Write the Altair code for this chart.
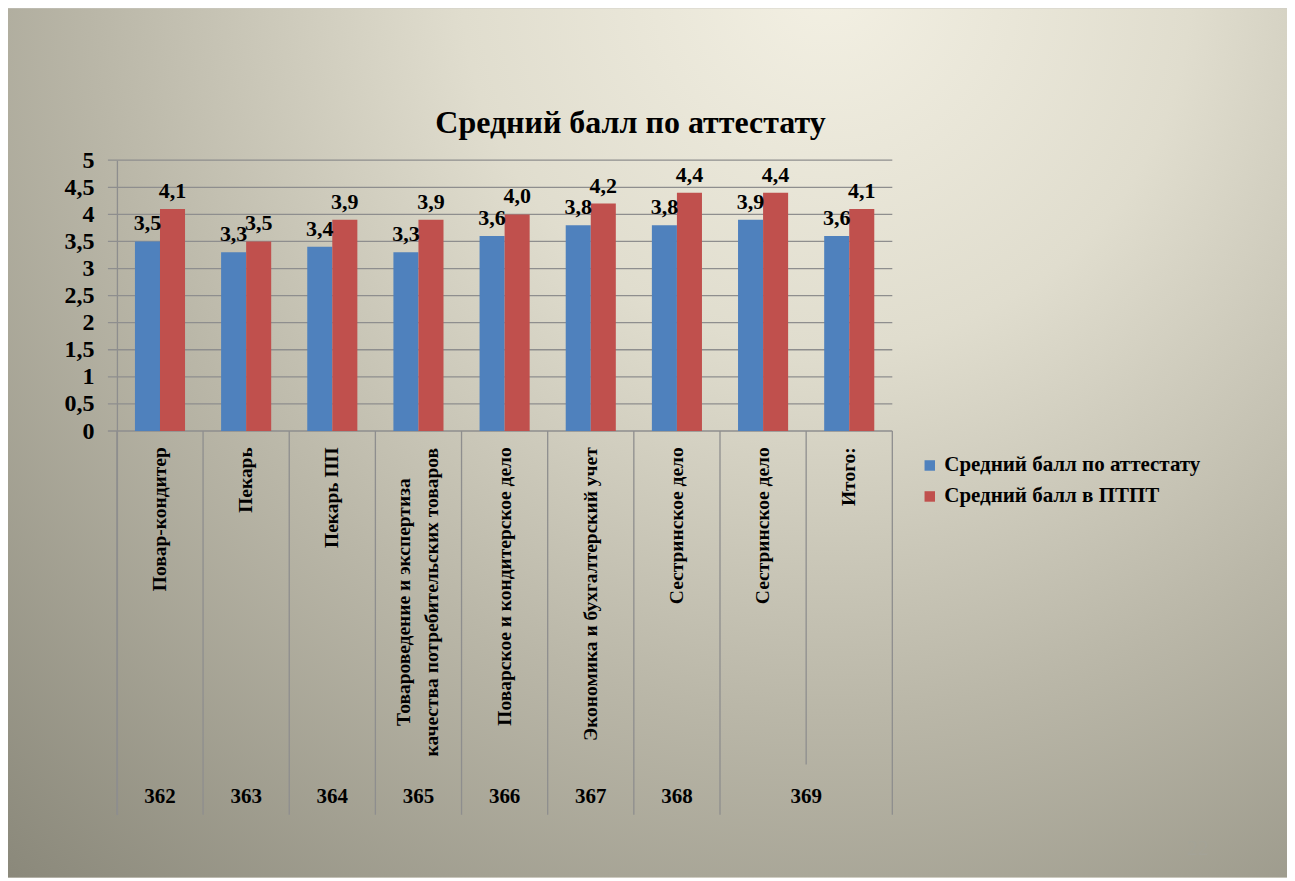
import altair as alt
import pandas as pd

# ---- data ----
keys = ["1", "2", "3", "4", "5", "6", "7", "8", "9"]
labels = ["Повар-кондитер", "Пекарь", "Пекарь ПП",
          "Товароведение и экспертиза\nкачества потребительских товаров",
          "Поварское и кондитерское дело", "Экономика и бухгалтерский учет",
          "Сестринское дело", "Сестринское дело", "Итого:"]
series_names = ["Средний балл по аттестату", "Средний балл в ПТПТ"]
att_values = [3.5, 3.3, 3.4, 3.3, 3.6, 3.8, 3.8, 3.9, 3.6]
ptpt_values = [4.1, 3.5, 3.9, 3.9, 4.0, 4.2, 4.4, 4.4, 4.1]
group_names = ["362", "363", "364", "365", "366", "367", "368", "369"]
group_first_key = ["1", "2", "3", "4", "5", "6", "7", "8"]
group_span = [1, 1, 1, 1, 1, 1, 1, 2]
y_ticks = [0, 0.5, 1, 1.5, 2, 2.5, 3, 3.5, 4, 4.5, 5]
title_text = "Средний балл по аттестату"

BLUE = "#4F81BD"
RED = "#C0504D"
LINE = "#8e8e8e"
FONT = "Liberation Serif"

W, H = 776, 655
YMIN, YMAX = -7.085, 5

# ---- tables ----
rows = []
for k, a, p in zip(keys, att_values, ptpt_values):
    rows.append({"key": k, "series": series_names[0], "value": a})
    rows.append({"key": k, "series": series_names[1], "value": p})
bars_df = pd.DataFrame(rows)

lab_df = pd.DataFrame({"key": keys, "label": labels})
lab_single = lab_df[~lab_df["label"].str.contains("\n")]
lab_multi = lab_df[lab_df["label"].str.contains("\n")]

grp_df = pd.DataFrame({"group": group_names, "key": group_first_key, "span": group_span})
grp_one = grp_df[grp_df["span"] == 1]
grp_two = grp_df[grp_df["span"] == 2]

starts = set(group_first_key)
sep_full = pd.DataFrame({"key": [k for k in keys if k in starts]})
sep_short = pd.DataFrame({"key": [k for k in keys if k not in starts]})
sep_end = pd.DataFrame({"key": [keys[-1]]})

tick_df = pd.DataFrame({"v": y_ticks})

xs = alt.Scale(domain=keys, paddingInner=0, paddingOuter=0)
ys = alt.Scale(domain=[YMIN, YMAX], nice=False, zero=False)
xo = alt.Scale(paddingInner=0, paddingOuter=0.72)

# ---- background ----
bg = alt.Chart(pd.DataFrame({"a": [0]})).mark_rect(
    color=alt.RadialGradient(
        gradient="radial", x1=0.64, y1=0.14, r1=0, x2=0.64, y2=0.14, r2=0.95,
        stops=[alt.GradientStop(offset=0, color="#f3f0e3"),
               alt.GradientStop(offset=0.3, color="#e0ddce"),
               alt.GradientStop(offset=0.6, color="#bab7a8"),
               alt.GradientStop(offset=1, color="#8a887a")]),
).encode(x=alt.value(-109), x2=alt.value(W + 395), y=alt.value(-152), y2=alt.value(H + 63))

grid = alt.Chart(tick_df).mark_rule(color=LINE, strokeWidth=1.3).encode(
    y=alt.Y("v:Q", scale=ys,
            axis=alt.Axis(values=y_ticks, grid=False, ticks=False, domain=True,
                          domainColor=LINE, domainWidth=1.3,
                          labelFont=FONT, labelFontWeight="bold", labelFontSize=24,
                          labelColor="black", labelPadding=23, title=None, zindex=1,
                          labelExpr="replace(format(datum.value, ''), '.', ',')")),
    x=alt.value(-9), x2=alt.value(W),
)

bars = alt.Chart(bars_df).mark_bar(strokeWidth=0).encode(
    x=alt.X("key:N", scale=xs, axis=None, sort=keys),
    xOffset=alt.XOffset("series:N", sort=series_names, scale=xo),
    y=alt.Y("value:Q", scale=ys, stack=None),
    y2=alt.datum(0),
    color=alt.Color("series:N", sort=series_names,
                    scale=alt.Scale(domain=series_names, range=[BLUE, RED]),
                    legend=alt.Legend(orient="none", legendX=803, legendY=295, title=None,
                                      symbolType="square", symbolSize=110,
                                      symbolStrokeWidth=0, labelFont=FONT,
                                      labelFontWeight="bold", labelFontSize=21,
                                      labelColor="black", rowPadding=9,
                                      labelOffset=4, labelLimit=400)),
)

vals = alt.Chart(bars_df).transform_calculate(
    txt="replace(format(datum.value, '.1f'), '.', ',')"
).mark_text(font=FONT, fontWeight="bold", fontSize=22, baseline="alphabetic",
            dy=-11, color="black").encode(
    x=alt.X("key:N", scale=xs, sort=keys),
    xOffset=alt.XOffset("series:N", sort=series_names, scale=xo),
    y=alt.Y("value:Q", scale=ys),
    text="txt:N",
)

sep1 = alt.Chart(sep_full).mark_rule(color=LINE, strokeWidth=1.3).encode(
    x=alt.X("key:N", scale=xs, bandPosition=0), y=alt.datum(0), y2=alt.datum(YMIN))
sep2 = alt.Chart(sep_short).mark_rule(color=LINE, strokeWidth=1.3).encode(
    x=alt.X("key:N", scale=xs, bandPosition=0), y=alt.datum(0), y2=alt.datum(-6.16))
sep3 = alt.Chart(sep_end).mark_rule(color=LINE, strokeWidth=1.3).encode(
    x=alt.X("key:N", scale=xs, bandPosition=1), y=alt.datum(0), y2=alt.datum(YMIN))

cat1 = alt.Chart(lab_single).mark_text(
    font=FONT, fontWeight="bold", fontSize=19.5, angle=270, align="right",
    baseline="middle", color="black").encode(
    x=alt.X("key:N", scale=xs), y=alt.datum(-0.3), text="label:N")
cat2 = alt.Chart(lab_multi).mark_text(
    font=FONT, fontWeight="bold", fontSize=19.5, angle=270, align="center",
    baseline="middle", color="black", lineBreak="\n", lineHeight=28, dy=-14).encode(
    x=alt.X("key:N", scale=xs), y=alt.datum(-3.16), text="label:N")

g1 = alt.Chart(grp_one).mark_text(
    font=FONT, fontWeight="bold", fontSize=21, baseline="middle", color="black").encode(
    x=alt.X("key:N", scale=xs, bandPosition=0.5), y=alt.datum(-6.75), text="group:N")
g2 = alt.Chart(grp_two).mark_text(
    font=FONT, fontWeight="bold", fontSize=21, baseline="middle", color="black").encode(
    x=alt.X("key:N", scale=xs, bandPosition=1), y=alt.datum(-6.75), text="group:N")

title = alt.Chart(pd.DataFrame({"t": [title_text]})).mark_text(
    font=FONT, fontWeight="bold", fontSize=32, baseline="middle", align="center",
    color="black").encode(x=alt.value(514), y=alt.value(-37), text="t:N")

slide = alt.Chart(pd.DataFrame({"t": ["22"]})).mark_text(
    font=FONT, fontSize=22, baseline="middle", align="center",
    color="#a4a397").encode(x=alt.value(1082), y=alt.value(688), text="t:N")

chart = alt.layer(bg, grid, bars, vals, sep1, sep2, sep3, cat1, cat2, g1, g2, title, slide).properties(
    width=W, height=H,
    autosize=alt.AutoSizeParams(type="none"),
    padding={"left": 109, "top": 152, "right": 395, "bottom": 63},
).configure_view(stroke=None)

chart.save("out.html", embed_options={"renderer": "svg", "actions": False})
